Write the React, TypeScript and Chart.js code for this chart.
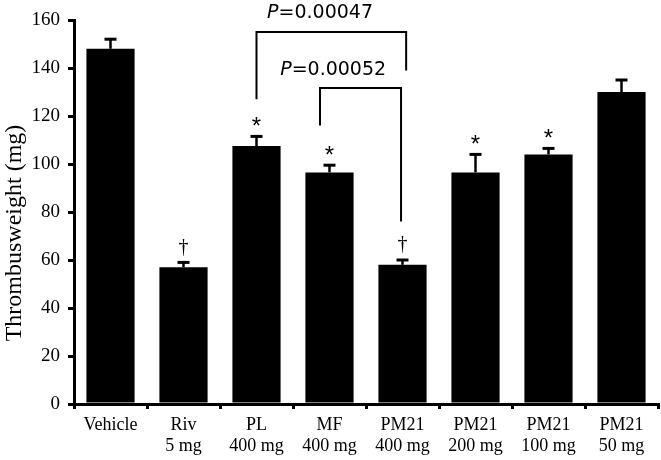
import React, { useEffect, useRef } from "react";
import { Chart, registerables } from "chart.js";

Chart.register(...registerables);

const categories: string[][] = [
  ["Vehicle"],
  ["Riv", "5 mg"],
  ["PL", "400 mg"],
  ["MF", "400 mg"],
  ["PM21", "400 mg"],
  ["PM21", "200 mg"],
  ["PM21", "100 mg"],
  ["PM21", "50 mg"],
];
const means = [148, 57, 107.5, 96.5, 58, 96.5, 104, 130];
const errors = [4, 2, 4, 3, 2, 7.5, 2.5, 5];
const marks = ["", "†", "*", "*", "†", "*", "*", ""];
const yMin = 0;
const yMax = 160;
const yStep = 20;
const yTitle = "Thrombusweight (mg)";
// brackets: positions in category units (fractional index), heights in data units
const brackets = [
  { left: 2.0, right: 4.05, top: 155, leftEnd: 127, rightEnd: 139, pValue: "0.00047", textAt: 2.87, textY: 160.8 },
  { left: 2.87, right: 3.98, top: 131.7, leftEnd: 116, rightEnd: 76, pValue: "0.00052", textAt: 3.05, textY: 137 },
];

const annotPlugin = {
  id: "annot",
  afterDatasetsDraw(chart: any) {
    const ctx = chart.ctx;
    const xs = chart.scales.x;
    const ys = chart.scales.y;
    ctx.save();
    ctx.strokeStyle = "#000";
    ctx.fillStyle = "#000";
    means.forEach((m, i) => {
      const x = xs.getPixelForValue(i);
      const y0 = ys.getPixelForValue(m);
      const y1 = ys.getPixelForValue(m + errors[i]);
      ctx.lineWidth = 2.5;
      ctx.beginPath();
      ctx.moveTo(x, y0);
      ctx.lineTo(x, y1);
      ctx.stroke();
      ctx.lineWidth = 3;
      ctx.beginPath();
      ctx.moveTo(x - 6, y1);
      ctx.lineTo(x + 6, y1);
      ctx.stroke();
      const mk = marks[i];
      if (mk) {
        ctx.textAlign = "center";
        ctx.textBaseline = "middle";
        if (mk === "*") {
          ctx.font = "24px 'Liberation Sans'";
          ctx.fillText(mk, x, y1 - 9);
        } else {
          ctx.font = "20px 'Liberation Serif'";
          ctx.fillText(mk, x, y1 - 15);
        }
      }
    });
    ctx.restore();
  },
  afterDraw(chart: any) {
    const ctx = chart.ctx;
    const xs = chart.scales.x;
    const ys = chart.scales.y;
    const catW = (xs.right - xs.left) / categories.length;
    const fx = (f: number) => xs.left + (f + 0.5) * catW;
    ctx.save();
    ctx.strokeStyle = "#000";
    ctx.fillStyle = "#000";
    ctx.lineWidth = 2;
    brackets.forEach((b) => {
      const xl = fx(b.left);
      const xr = fx(b.right);
      const yt = ys.getPixelForValue(b.top);
      ctx.beginPath();
      ctx.moveTo(xl, ys.getPixelForValue(b.leftEnd));
      ctx.lineTo(xl, yt);
      ctx.lineTo(xr, yt);
      ctx.lineTo(xr, ys.getPixelForValue(b.rightEnd));
      ctx.stroke();
      const fontP = "italic 19px 'DejaVu Sans'";
      const fontR = "19px 'DejaVu Sans'";
      ctx.font = fontP;
      const wP = ctx.measureText("P").width;
      ctx.font = fontR;
      const rest = "=" + b.pValue;
      const wR = ctx.measureText(rest).width;
      const cx = fx(b.textAt);
      const ty = ys.getPixelForValue(b.textY);
      const x0 = cx - (wP + wR) / 2;
      ctx.textAlign = "left";
      ctx.textBaseline = "alphabetic";
      ctx.font = fontP;
      ctx.fillText("P", x0, ty);
      ctx.font = fontR;
      ctx.fillText(rest, x0 + wP, ty);
    });
    ctx.save();
    ctx.translate(15, 233);
    ctx.rotate(-Math.PI / 2);
    ctx.textAlign = "center";
    ctx.textBaseline = "middle";
    ctx.font = "24px 'Liberation Serif'";
    ctx.fillText(yTitle, 0, 0);
    ctx.restore();
    ctx.restore();
  },
};

export default function App() {
  const ref = useRef<HTMLCanvasElement>(null);
  useEffect(() => {
    const chart = new Chart(ref.current as HTMLCanvasElement, {
      type: "bar",
      data: {
        labels: categories,
        datasets: [
          {
            data: means,
            backgroundColor: "#000",
            borderWidth: 0,
            categoryPercentage: 1,
            barPercentage: 0.66,
          },
        ],
      },
      options: {
        animation: false,
        responsive: false,
        devicePixelRatio: 1,
        layout: { padding: { left: 0, top: 20, right: 3, bottom: 0 } },
        plugins: { legend: { display: false }, tooltip: { enabled: false }, title: { display: false } },
        scales: {
          x: {
            offset: true,
            grid: {
              offset: true,
              drawOnChartArea: false,
              drawTicks: true,
              tickLength: 5,
              color: "#000",
              lineWidth: 3,
            },
            border: { display: true, color: "#000", width: 3 },
            ticks: {
              color: "#000",
              padding: 6,
              maxRotation: 0,
              autoSkip: false,
              font: { family: "'Liberation Serif'", size: 18, lineHeight: 1.17 },
            },
            afterFit: (s: any) => {
              s.height = 56;
            },
          },
          y: {
            min: yMin,
            max: yMax,
            grid: {
              drawOnChartArea: false,
              drawTicks: true,
              tickLength: 6,
              color: "#000",
              lineWidth: 3,
            },
            border: { display: true, color: "#000", width: 3 },
            ticks: {
              stepSize: yStep,
              color: "#000",
              padding: 8,
              font: { family: "'Liberation Serif'", size: 19 },
            },
            afterFit: (s: any) => {
              s.width = 74;
            },
          },
        },
      },
      plugins: [annotPlugin],
    } as any);
    return () => chart.destroy();
  }, []);
  return (
    <div style={{ position: "fixed", left: 0, top: 0, width: 661, height: 460, background: "#fff" }}>
      <canvas ref={ref} width={661} height={460} style={{ width: 661, height: 460 }} />
    </div>
  );
}
